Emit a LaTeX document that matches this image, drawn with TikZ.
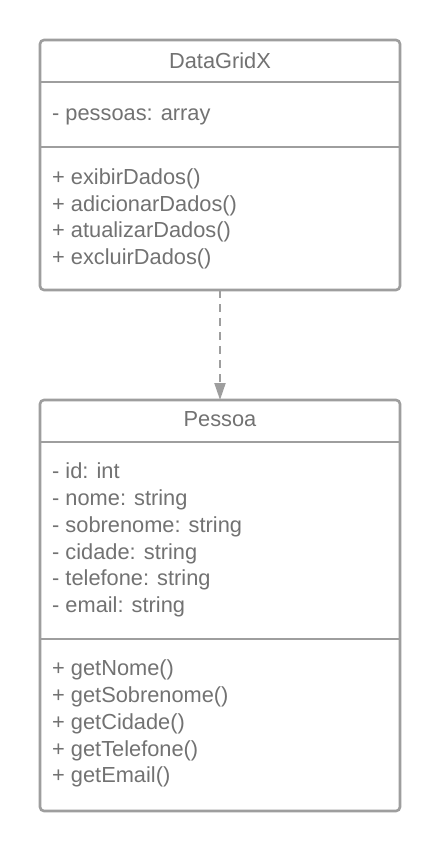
\documentclass[tikz,border=0pt]{standalone}
\usepackage{fontspec}
\setmainfont{Liberation Sans}
\usetikzlibrary{arrows.meta}
\definecolor{lineg}{HTML}{9E9E9E}
\definecolor{textg}{HTML}{727272}
\begin{document}
\begin{tikzpicture}[x=1pt,y=-1pt,
  umlbox/.style={draw=lineg,line width=2.6pt,rounded corners=4pt},
  divider/.style={draw=lineg,line width=2.6pt},
  txt/.style={text=textg,font=\fontsize{21.8}{24}\selectfont,inner sep=0pt,text height=15.5pt,text depth=4pt},
  title/.style={txt,anchor=center},
  member/.style={txt,anchor=west},
  dep/.style={draw=lineg,line width=2pt,dash pattern=on 8pt off 6pt,-{Triangle[width=11pt,length=17pt]}}]
\useasboundingbox (0,0) rectangle (440,851);
\fill[white] (0,0) rectangle (440,851);
% DataGridX
\draw[umlbox] (40,40) rectangle (400,290);
\coordinate (a) at (220,290);
\draw[divider] (40,82) -- (400,82);
\draw[divider] (40,147) -- (400,147);
\node[title] (t1) at (220,63) {DataGridX};
\node[member] (a1) at (52,115) {- pessoas: array};
\node[member] (m1) at (52,179) {+ exibirDados()};
\node[member] (m2) at (52,205.5) {+ adicionarDados()};
\node[member] (m3) at (52,232) {+ atualizarDados()};
\node[member] (m4) at (52,258.5) {+ excluirDados()};
% Pessoa
\draw[umlbox] (40,400) rectangle (400,811);
\coordinate (b) at (220,400);
\draw[divider] (40,442) -- (400,442);
\draw[divider] (40,639) -- (400,639);
\node[title] (t2) at (220,421) {Pessoa};
\node[member] (p1) at (52,473) {- id: int};
\node[member] (p2) at (52,499.8) {- nome: string};
\node[member] (p3) at (52,526.6) {- sobrenome: string};
\node[member] (p4) at (52,553.4) {- cidade: string};
\node[member] (p5) at (52,580.2) {- telefone: string};
\node[member] (p6) at (52,607) {- email: string};
\node[member] (q1) at (52,670) {+ getNome()};
\node[member] (q2) at (52,696.8) {+ getSobrenome()};
\node[member] (q3) at (52,723.6) {+ getCidade()};
\node[member] (q4) at (52,750.4) {+ getTelefone()};
\node[member] (q5) at (52,777.2) {+ getEmail()};
\draw[dep] (a) -- (b);
\end{tikzpicture}
\end{document}
